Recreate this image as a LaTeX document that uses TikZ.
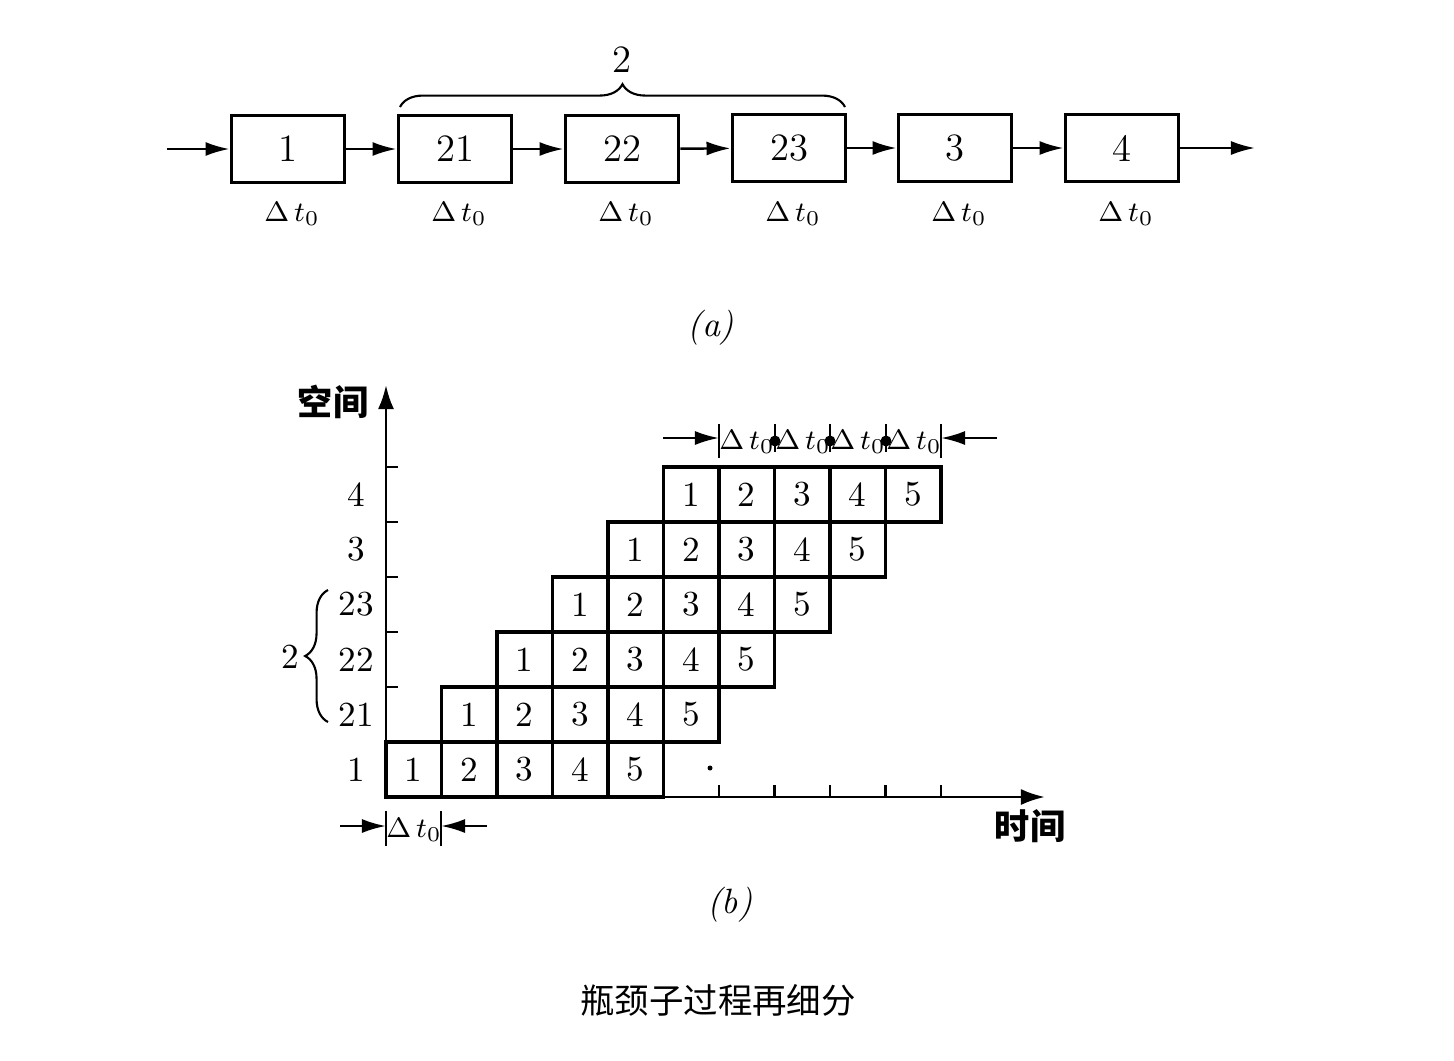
\documentclass[tikz,border=0pt]{standalone}
\usepackage{fontspec}
\newfontfamily\cjk{Noto Sans CJK SC}
\usetikzlibrary{arrows.meta,decorations.pathreplacing,positioning}

\tikzset{
  stage/.style={draw, line width=1.1pt, minimum width=11.3mm, minimum height=6.7mm, inner sep=0pt, font=\fontsize{11}{13}\selectfont},
  cell/.style={draw, line width=0.9pt, minimum width=5.55mm, minimum height=5.5mm, inner sep=0pt},
  flow/.style={-{Latex[length=2.4mm,width=1.4mm]}, line width=0.7pt},
  axis/.style={-{Latex[length=2.4mm,width=1.6mm]}, line width=0.8pt},
  tick/.style={line width=0.7pt},
  brace/.style={decorate, decoration={brace, amplitude=6.5pt}, line width=0.6pt},
  dt/.style={font=\footnotesize, inner sep=0pt}
}

\begin{document}
\begin{tikzpicture}[x=0.01cm, y=-0.01cm]
  \useasboundingbox (0,0) rectangle (1454,1060);

  % (a) stages
  \node[stage] (s1) at (288,149) {1};
  \node[stage] (s21) at (455,149) {21};
  \node[stage] (s22) at (622,149) {22};
  \node[stage] (s23) at (789,148) {23};
  \node[stage] (s3) at (955,148) {3};
  \node[stage] (s4) at (1122,148) {4};
  \coordinate (in) at (167,149);
  \coordinate (out) at (1255,148);
  \draw[flow] (in) -- (s1);
  \draw[flow] (s1) -- (s21);
  \draw[flow] (s21) -- (s22);
  \draw[flow] (s22) -- (s23);
  \draw[flow] (s23) -- (s3);
  \draw[flow] (s3) -- (s4);
  \draw[flow] (s4) -- (out);
  \foreach \s/\x in {s1/292,s21/459,s22/626,s23/793,s3/959,s4/1126}
    \node[dt] (t\s) at (\x,214) {$\Delta\,t_0$};
  \coordinate (bl) at (400,107);
  \coordinate (br) at (845,107);
  \draw[brace] (bl) -- (br);
  \node (grp) at (622,60) {\fontsize{11}{13}\selectfont 2};
  \node (capa) at (711,328) {\textit{(a)}};

  % (b) axes
  \coordinate (O) at (386,797);
  \coordinate (ytip) at (386,385);
  \coordinate (xtip) at (1045,797);
  \draw[axis] (O) -- (ytip);
  \draw[axis] (O) -- (xtip);
  \foreach \k in {2,...,6}
    \draw[tick] (386,{797-55*\k}) -- ++(12,0);
  \foreach \m in {6,...,10}
    \draw[tick] ({386+55.5*\m},797) -- ++(0,-12);
  \node (ylab) at (333,402) {\cjk\bfseries 空间};
  \node (xlab) at (1030,826) {\cjk\bfseries 时间};

  % cells
  \foreach \k in {0,...,5}{
    \foreach \j in {1,...,5}{
      \node[cell] (c\k\j) at ({386+55.5*(\k+\j-1)+27.75},{797-55*\k-27.5}) {\j};
    }
  }
  \foreach \k/\lbl in {0/1,1/21,2/22,3/23,4/3,5/4}
    \node (r\k) at (356,{797-55*\k-27.5}) {\lbl};
  \coordinate (lb) at (328,722);
  \coordinate (lt) at (328,590);
  \draw[brace] (lb) -- (lt);
  \node (sub) at (290,657) {2};
  \fill (710,768) circle (0.25mm);

  % top dimension
  \coordinate (ta) at (663,438);
  \coordinate (tb) at (719,438);
  \coordinate (tc) at (941,438);
  \coordinate (td) at (997,438);
  \draw[tick] (719,424) -- (719,458);
  \draw[tick] (941,424) -- (941,458);
  \draw[flow] (ta) -- (tb);
  \draw[flow] (td) -- (tc);
  \foreach \x in {775,830,886}{
    \draw[tick] (\x,424) -- (\x,452);
    \fill (\x,441) circle (0.55mm);
  }
  \foreach \i/\x in {1/747,2/803,3/858,4/914}
    \node[dt] (top\i) at (\x,442) {$\Delta\,t_0$};

  % bottom dimension
  \coordinate (ba) at (340,826);
  \coordinate (bb) at (386,826);
  \coordinate (bc) at (441,826);
  \coordinate (bd) at (487,826);
  \draw[tick] (386,811) -- (386,846);
  \draw[tick] (441,811) -- (441,846);
  \draw[flow] (ba) -- (bb);
  \draw[flow] (bd) -- (bc);
  \node[dt] (bot) at (414,830) {$\Delta\,t_0$};

  \node (capb) at (730,905) {\textit{(b)}};
  \node (title) at (718,1000) {\cjk\fontsize{9.8}{12}\selectfont 瓶颈子过程再细分};
\end{tikzpicture}
\end{document}
